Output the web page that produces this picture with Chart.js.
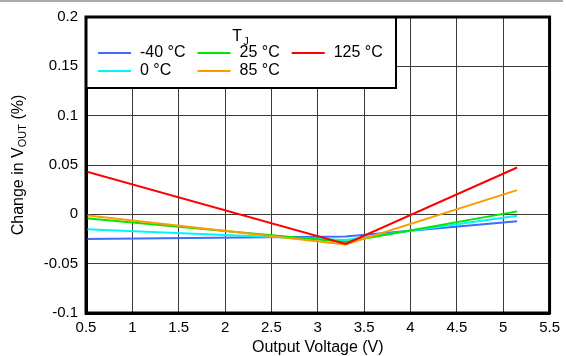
<!DOCTYPE html>
<html>
<head>
<meta charset="utf-8">
<script src="https://cdn.jsdelivr.net/npm/chart.js@4"></script>
<style>
  body { margin: 0; background: #fff; }
  canvas { display: block; }
</style>
</head>
<body>
<canvas id="vout" width="566" height="356"></canvas>
<script>
// data
var voltage = [0.5, 3.3, 5.15];
var tjLabels = ['-40 °C', '0 °C', '25 °C', '85 °C', '125 °C'];
var tjColors = ['#3f6bff', '#00f5f5', '#00e600', '#ff9a00', '#ff0000'];
var tjM40 = [-0.025, -0.0225, -0.007];
var tj0 = [-0.015, -0.026, -0.0015];
var tj25 = [-0.004, -0.028, 0.003];
var tj85 = [-0.001, -0.0305, 0.0245];
var tj125 = [0.0435, -0.030, 0.0475];
var xTicks = [0.5, 1, 1.5, 2, 2.5, 3, 3.5, 4, 4.5, 5, 5.5];
var yTicks = [-0.1, -0.05, 0, 0.05, 0.1, 0.15, 0.2];

var FONT = '"Liberation Sans", Arial, Helvetica, sans-serif';
var series = [tjM40, tj0, tj25, tj85, tj125];

function pts(ys) {
    return voltage.map(function (v, i) { return {x: v, y: ys[i]}; });
}

var datasets = series.map(function (ys, i) {
    return {
        label: tjLabels[i],
        data: pts(ys),
        borderColor: tjColors[i],
        backgroundColor: tjColors[i],
        borderWidth: 2,
        pointRadius: 0,
        fill: false,
        tension: 0,
        order: series.length - i
    };
});

// frame, legend box and the y title with its subscript
var decor = {
    id: 'decor',
    beforeDraw: function (chart) {
        var ctx = chart.ctx;
        ctx.save();
        ctx.fillStyle = '#ffffff';
        ctx.fillRect(0, 0, chart.width, chart.height);
        ctx.fillStyle = '#aaaaaa';
        ctx.fillRect(0, 0, 563, 2);
        ctx.restore();
    },
    afterDraw: function (chart) {
        var ctx = chart.ctx;
        var a = chart.chartArea;
        ctx.save();

        // legend
        var bx = a.left, by = a.top, bw = 310, bh = 71;
        ctx.fillStyle = '#fff';
        ctx.fillRect(bx, by, bw, bh);
        ctx.strokeStyle = '#000';
        ctx.lineWidth = 2;
        ctx.strokeRect(bx, by, bw, bh);

        ctx.fillStyle = '#000';
        ctx.textBaseline = 'alphabetic';
        ctx.font = '16px ' + FONT;
        var tw = ctx.measureText('T').width;
        ctx.font = '11px ' + FONT;
        var jw = ctx.measureText('J').width;
        var tx = bx + 154 - (tw + jw) / 2;
        ctx.font = '16px ' + FONT;
        ctx.fillText('T', tx, by + 24);
        ctx.font = '11px ' + FONT;
        ctx.fillText('J', tx + tw + 1, by + 28);

        ctx.font = '16px ' + FONT;
        ctx.textBaseline = 'middle';
        var colX = bx + 12;
        for (var c = 0; c * 2 < tjLabels.length; c++) {
            var maxW = 0;
            for (var r = 0; r < 2; r++) {
                var k = c * 2 + r;
                if (k >= tjLabels.length) break;
                var y = by + 36 + r * 18;
                ctx.strokeStyle = tjColors[k];
                ctx.lineWidth = 2;
                ctx.beginPath();
                ctx.moveTo(colX, y);
                ctx.lineTo(colX + 33, y);
                ctx.stroke();
                ctx.fillStyle = '#000';
                ctx.fillText(tjLabels[k], colX + 42, y);
                maxW = Math.max(maxW, ctx.measureText(tjLabels[k]).width);
            }
            colX += 42 + maxW + 12;
        }

        // plot frame
        ctx.strokeStyle = '#000';
        ctx.lineWidth = 3;
        ctx.strokeRect(a.left, a.top, a.right - a.left, a.bottom - a.top);

        // y title
        ctx.translate(19, (a.top + a.bottom) / 2);
        ctx.rotate(-Math.PI / 2);
        ctx.textBaseline = 'middle';
        var parts = [['Change in V', 16, 0], ['OUT', 11, 4], [' (%)', 16, 0]];
        var total = 0;
        parts.forEach(function (p) {
            ctx.font = p[1] + 'px ' + FONT;
            total += ctx.measureText(p[0]).width;
        });
        var px = -total / 2;
        ctx.fillStyle = '#000';
        parts.forEach(function (p) {
            ctx.font = p[1] + 'px ' + FONT;
            ctx.fillText(p[0], px, p[2]);
            px += ctx.measureText(p[0]).width;
        });
        ctx.restore();
    }
};

var voutChart = new Chart(document.getElementById('vout'), {
    type: 'line',
    data: {datasets: datasets},
    options: {
        responsive: false,
        animation: false,
        layout: {padding: {top: 16, right: 13, left: 0, bottom: 0}},
        plugins: {
            legend: {display: false},
            tooltip: {enabled: false}
        },
        scales: {
            x: {
                type: 'linear',
                min: 0.5,
                max: 5.5,
                afterBuildTicks: function (s) {
                    s.ticks = xTicks.map(function (v) { return {value: v}; });
                },
                afterFit: function (s) { s.height = 43; },
                grid: {color: '#3a3a3a', lineWidth: 1, drawTicks: false},
                border: {color: '#000', width: 3},
                ticks: {
                    color: '#000',
                    padding: 6,
                    maxRotation: 0,
                    autoSkip: false,
                    font: {family: FONT, size: 15},
                    callback: function (v) { return String(v); }
                },
                title: {
                    display: true,
                    text: 'Output Voltage (V)',
                    color: '#000',
                    padding: {top: 0, bottom: -1},
                    font: {family: FONT, size: 16}
                }
            },
            y: {
                min: -0.1,
                max: 0.2,
                afterBuildTicks: function (s) {
                    s.ticks = yTicks.map(function (v) { return {value: v}; });
                },
                afterFit: function (s) { s.width = 86; },
                grid: {color: '#3a3a3a', lineWidth: 1, drawTicks: false},
                border: {color: '#000', width: 3},
                ticks: {
                    color: '#000',
                    padding: 8,
                    autoSkip: false,
                    font: {family: FONT, size: 15},
                    callback: function (v) { return String(Number(v.toFixed(2))); }
                }
            }
        }
    },
    plugins: [decor]
});
</script>
</body>
</html>
